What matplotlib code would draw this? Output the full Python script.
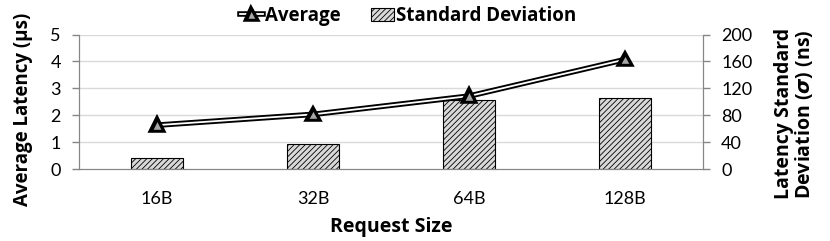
import matplotlib
matplotlib.use("Agg")
import matplotlib.pyplot as plt
import matplotlib.patheffects as pe
from matplotlib.lines import Line2D
from matplotlib.patches import Patch
import numpy as np

categories = ["16B", "32B", "64B", "128B"]
avg_latency = [1.63, 2.03, 2.71, 4.07]
std_dev = [17, 37, 102, 106]
left_ticks = [0, 1, 2, 3, 4, 5]
right_ticks = [0, 40, 80, 120, 160, 200]

plt.rcParams['font.family'] = ['Lato', 'DejaVu Sans']
plt.rcParams['hatch.linewidth'] = 0.6
plt.rcParams['mathtext.fontset'] = 'dejavusans'
BOLD = ['Open Sans', 'DejaVu Sans']

fig = plt.figure(figsize=(8.30, 2.41), dpi=100)
ax = fig.add_axes([79/830, 1-169/241, (703-79)/830, (169-34.5)/241])
ax2 = ax.twinx()

x = np.arange(len(categories))
ax2.bar(x, std_dev, width=1/3, color="#d9d9d9", edgecolor="black", hatch="//////", linewidth=0.8, zorder=2)
ax2.set_ylim(0, 200)
ax2.set_yticks(right_ticks)

ax.set_zorder(ax2.get_zorder() + 1)
ax.patch.set_visible(False)
ax.plot(x, avg_latency, color="white", lw=1.3, marker="^", markersize=7,
        markerfacecolor="#a6a6a6", markeredgecolor="black", markeredgewidth=1.0,
        path_effects=[pe.Stroke(linewidth=4.0, foreground="black"), pe.Normal()], zorder=3)
ax.set_ylim(0, 5)
ax.set_yticks(left_ticks)
ax.set_xlim(-0.5, len(categories) - 0.5)
ax.set_xticks(x)
ax.set_xticklabels(categories)

for t in left_ticks[1:]:
    ax2.axhline(t * 40, color="#d9d9d9", lw=1, zorder=0)

for a in (ax, ax2):
    a.spines['top'].set_visible(False)
    a.spines['left'].set_color("#868686")
    a.spines['right'].set_color("#868686")
    a.spines['bottom'].set_color("#868686")
    a.tick_params(axis='y', colors="#868686", labelcolor="black", labelsize=13, length=5, width=1, pad=8)
ax.tick_params(axis='x', length=0, labelsize=13, pad=16)

ax.set_ylabel("Average Latency (μs)", fontsize=13.5, fontweight="bold", family=BOLD)
ax.yaxis.set_label_coords(-0.073, 0.44)
ax.set_xlabel("Request Size", fontsize=14, fontweight="bold", family=BOLD, labelpad=7)
ax2.set_ylabel("Latency Standard\nDeviation ($\\boldsymbol{\\sigma}$) (ns)", fontsize=14, fontweight="bold",
               family=BOLD, rotation=90, linespacing=0.95)
ax2.yaxis.set_label_coords(1.114, 0.41)

handles = [
    Line2D([0], [0], color="white", lw=1.3, marker="^", markersize=6,
           markerfacecolor="#a6a6a6", markeredgecolor="black",
           path_effects=[pe.Stroke(linewidth=4.0, foreground="black"), pe.Normal()]),
    Patch(facecolor="#d9d9d9", edgecolor="black", hatch="//////", linewidth=0.8),
]
fig.legend(handles, ["Average", "Standard Deviation"], loc="upper center",
           bbox_to_anchor=(0.492, 1.045), ncol=2, frameon=False,
           prop={'weight': 'bold', 'size': 13.5, 'family': BOLD}, handlelength=1.2, handletextpad=0.15, columnspacing=1.6)

fig.savefig("out.png", dpi=100)
